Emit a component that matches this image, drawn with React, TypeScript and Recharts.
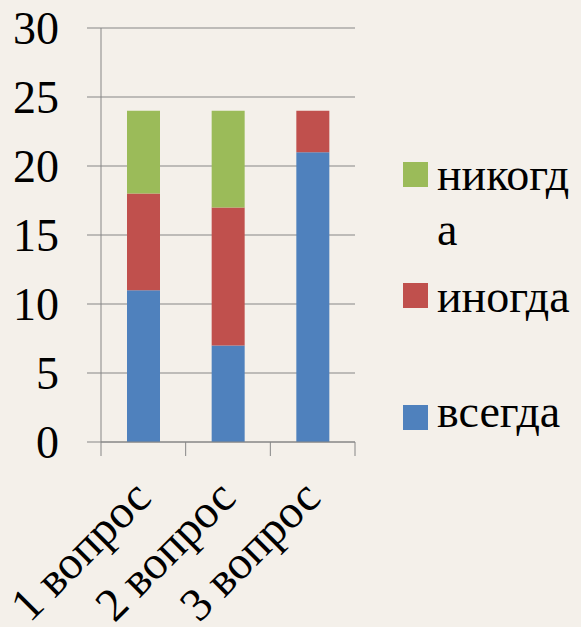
import React from "react";
import { BarChart, Bar, XAxis, YAxis, CartesianGrid, Legend } from "recharts";

const categories = ["1 вопрос", "2 вопрос", "3 вопрос"];
const always = [11, 7, 21];
const sometimes = [7, 10, 3];
const never = [6, 7, 0];
const yTicks = [0, 5, 10, 15, 20, 25, 30];

const data = categories.map((name, i) => ({
  name,
  всегда: always[i],
  иногда: sometimes[i],
  никогда: never[i],
}));

const FONT = '"Liberation Serif", "DejaVu Serif", serif';
const AXIS = "#868686";

// legend layout (square tops and text baselines, top to bottom)
const squareTops = [162, 283, 405];
const textBaselines = [190, 312, 427];

function XTick(props: any) {
  const { x, y, payload, index, visibleTicksCount } = props;
  const half = payload?.offset ?? 42.3;
  const last = index === visibleTicksCount - 1;
  const tx = x + 10;
  const ty = y + 44;
  return (
    <g>
      <line x1={x - half} x2={x - half} y1={y - 14} y2={y} stroke={AXIS} />
      {last && <line x1={x + half} x2={x + half} y1={y - 14} y2={y} stroke={AXIS} />}
      <text
        x={tx}
        y={ty}
        transform={`rotate(-45, ${tx}, ${ty})`}
        textAnchor="end"
        fontSize={47}
        fontFamily={FONT}
        fill="#000"
      >
        {payload.value}
      </text>
    </g>
  );
}

const renderLegend = (props: any) => {
  const items = [...(props.payload || [])].reverse();
  return (
    <div style={{ position: "relative", width: 178, height: 627, fontFamily: FONT }}>
      {items.map((it: any, i: number) => (
        <React.Fragment key={it.value}>
          <div
            style={{
              position: "absolute",
              left: 0,
              top: squareTops[i],
              width: 25,
              height: 25,
              background: it.color,
            }}
          />
          <div
            style={{
              position: "absolute",
              left: 34,
              top: textBaselines[i] - 43,
              width: 144,
              fontSize: 46,
              lineHeight: "55px",
              color: "#000",
              overflowWrap: "anywhere",
              wordBreak: "break-all",
            }}
          >
            {it.value}
          </div>
        </React.Fragment>
      ))}
    </div>
  );
};

export default function App() {
  return (
    <div
      style={{
        position: "absolute",
        left: 0,
        top: 0,
        width: 581,
        height: 627,
        background: "#f4f0ea",
        fontFamily: FONT,
      }}
    >
      <BarChart
        width={581}
        height={627}
        data={data}
        margin={{ top: 28, right: 48, left: 0, bottom: 0 }}
        barSize={33}
      >
        <CartesianGrid horizontal vertical={false} stroke={AXIS} strokeWidth={1} />
        <XAxis
          dataKey="name"
          height={185}
          interval={0}
          axisLine={{ stroke: AXIS }}
          tickLine={false}
          tickSize={14}
          tickMargin={0}
          tick={<XTick />}
        />
        <YAxis
          domain={[0, 30]}
          ticks={yTicks}
          interval={0}
          width={101}
          tickSize={14}
          tickMargin={28}
          axisLine={{ stroke: AXIS }}
          tickLine={{ stroke: AXIS }}
          tick={{ fontSize: 46, fill: "#000", fontFamily: FONT }}
        />
        <Legend
          layout="vertical"
          align="right"
          verticalAlign="top"
          content={renderLegend}
          wrapperStyle={{ position: "absolute", left: 403, top: 0, width: 178, height: 627 }}
        />
        <Bar dataKey="всегда" stackId="a" fill="#4F81BD" isAnimationActive={false} />
        <Bar dataKey="иногда" stackId="a" fill="#C0504D" isAnimationActive={false} />
        <Bar dataKey="никогда" stackId="a" fill="#9BBB59" isAnimationActive={false} />
      </BarChart>
    </div>
  );
}
